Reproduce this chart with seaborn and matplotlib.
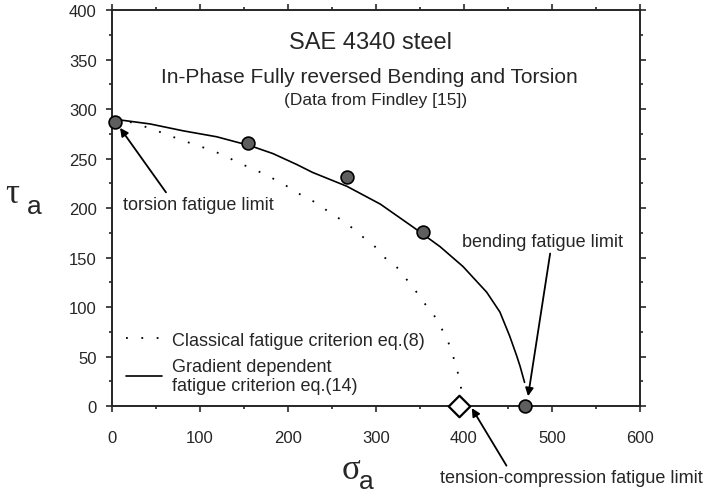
import seaborn as sns
import matplotlib.pyplot as plt
import pandas as pd
from matplotlib.ticker import MultipleLocator

sigma_pts = [3, 155, 267, 353]
tau_pts = [287, 266, 231, 176]
bending_sigma = [470]
bending_tau = [0]
tension_sigma = [395]
tension_tau = [0]

class_sigma = [3, 20, 35, 51, 66, 81, 98, 114, 128, 143, 159, 174, 189, 205, 217, 233, 245,
               259, 273, 285, 299, 310, 324, 333, 344, 353, 364, 373, 381, 386, 392, 395, 399]
class_tau = [289, 287, 283, 278, 273, 268, 263, 258, 253, 246, 240, 234, 227, 219, 212, 205, 197,
             189, 180, 171, 161, 150, 140, 130, 118, 106, 95, 81, 68, 55, 39, 25, 10]

grad_sigma = [0, 9, 43, 81, 119, 157, 183, 210, 228, 267, 305, 342, 373, 399, 426, 441, 452, 460, 464, 469]
grad_tau = [289, 289, 285, 278, 272, 263, 255, 244, 236, 222, 204, 181, 161, 141, 115, 95, 71, 51, 40, 24]

sns.set_style('ticks')
plt.rcParams['font.family'] = ['Liberation Sans', 'DejaVu Sans']

fig = plt.figure(figsize=(7.14, 5.02), dpi=100)
ax = fig.add_axes([0.157, 0.189, 0.739, 0.789])

df_class = pd.DataFrame({'sigma': class_sigma, 'tau': class_tau})
df_grad = pd.DataFrame({'sigma': grad_sigma, 'tau': grad_tau})

sns.lineplot(data=df_class, x='sigma', y='tau', sort=False, estimator=None, color='black',
             linewidth=1.3, label='Classical fatigue criterion eq.(8)', ax=ax)
ax.get_lines()[-1].set_dashes((1, 7.5))
sns.lineplot(data=df_grad, x='sigma', y='tau', sort=False, estimator=None, color='black',
             linewidth=1.2, label='Gradient dependent\nfatigue criterion eq.(14)', ax=ax)

sns.scatterplot(x=sigma_pts + bending_sigma, y=tau_pts + bending_tau, s=85, color='#5e5e5e',
                edgecolor='black', linewidth=1.2, zorder=5, clip_on=False, ax=ax)
sns.scatterplot(x=tension_sigma, y=tension_tau, marker='D', s=120, color='white',
                edgecolor='black', linewidth=1.6, zorder=5, clip_on=False, ax=ax)

ax.set_xlim(0, 600)
ax.set_ylim(0, 400)
ax.xaxis.set_major_locator(MultipleLocator(100))
ax.xaxis.set_minor_locator(MultipleLocator(50))
ax.yaxis.set_major_locator(MultipleLocator(50))
ax.yaxis.set_minor_locator(MultipleLocator(25))
ax.tick_params(which='both', top=True, right=True, width=1.2, labelsize=12)
ax.tick_params(which='major', length=4)
ax.tick_params(which='minor', length=2.5)
ax.tick_params(axis='x', pad=13)
ax.tick_params(axis='y', pad=7)
for side in ['top', 'right', 'bottom', 'left']:
    ax.spines[side].set_linewidth(1.4)
ax.set_xlabel('')
ax.set_ylabel('')

ax.text(294, 368, 'SAE 4340 steel', ha='center', va='center', fontsize=17)
ax.text(293, 333, 'In-Phase Fully reversed Bending and Torsion', ha='center', va='center', fontsize=15)
ax.text(300, 310, '(Data from Findley [15])', ha='center', va='center', fontsize=12.5)

arrow = dict(arrowstyle='-|>', color='black', lw=1.3, mutation_scale=12, shrinkA=0, shrinkB=0)
ax.annotate('torsion fatigue limit', xy=(9, 281), xytext=(12.5, 204), ha='left', va='center',
            fontsize=13, arrowprops=dict(arrow, relpos=(0.3, 1.0)))
ax.annotate('bending fatigue limit', xy=(473, 10), xytext=(398, 166), ha='left', va='center',
            fontsize=13, arrowprops=dict(arrow, relpos=(0.55, 0.0)))
ax.annotate('tension-compression fatigue limit', xy=(409, -2), xytext=(373, -72), ha='left',
            va='center', fontsize=13, annotation_clip=False, arrowprops=dict(arrow, relpos=(0.26, 1.0)))

leg = ax.legend(loc='lower left', bbox_to_anchor=(0.0265, 0.03), frameon=False, fontsize=13,
                handlelength=2.0, handletextpad=0.55, borderpad=0, borderaxespad=0, labelspacing=0.5)

# 坐标轴名称: 希腊字母 + 下标 a
fig.text(0.008, 0.612, 'τ', fontsize=25, family='Liberation Serif', va='center', ha='left')
fig.text(0.037, 0.588, 'a', fontsize=19, va='center', ha='left')
fig.text(0.478, 0.062, 'σ', fontsize=25, family='Liberation Serif', va='center', ha='left')
fig.text(0.502, 0.040, 'a', fontsize=19, va='center', ha='left')

plt.savefig('out.png', dpi=100)
